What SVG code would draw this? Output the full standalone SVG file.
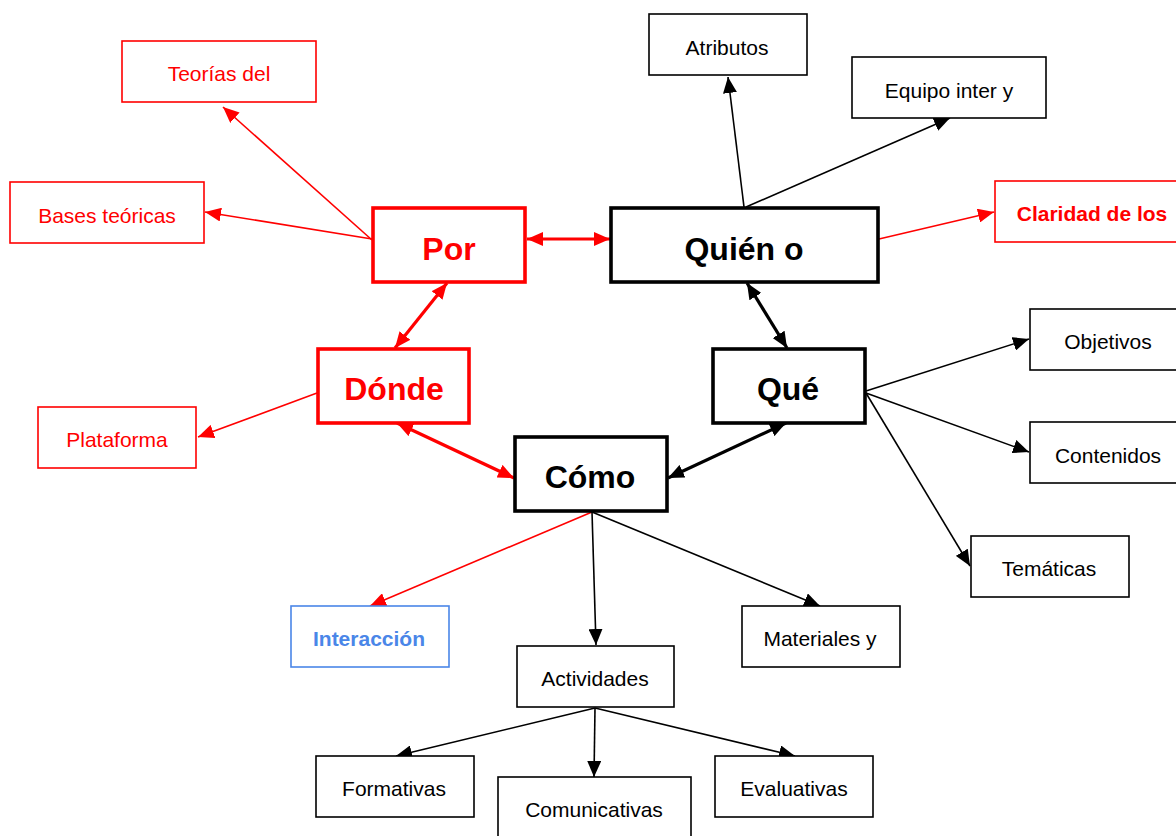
<svg xmlns="http://www.w3.org/2000/svg" width="1176" height="836" viewBox="0 0 1176 836">
  <style>
    text { font-family: "Liberation Sans", Arial, sans-serif; text-anchor: middle; dominant-baseline: central; }
    .box { fill: #fff; stroke: #000; stroke-width: 1.6; }
    .box-red { fill: #fff; stroke: #ff0000; stroke-width: 1.6; }
    .box-blue { fill: #fff; stroke: #4a86e8; stroke-width: 1.6; }
    .main { fill: #fff; stroke: #000; stroke-width: 3.6; }
    .main-red { fill: #fff; stroke: #ff0000; stroke-width: 3.6; }
    .t { font-size: 21px; fill: #000; }
    .t-red { font-size: 21px; fill: #ff0000; }
    .tb-red { font-size: 21px; font-weight: bold; fill: #ff0000; }
    .tb-blue { font-size: 21px; font-weight: bold; fill: #4a86e8; }
    .big { font-size: 32px; font-weight: bold; fill: #000; }
    .big-red { font-size: 32px; font-weight: bold; fill: #ff0000; }
    .c { fill: none; stroke: #000; stroke-width: 1.6; marker-end: url(#ah); }
    .c-red { fill: none; stroke: #ff0000; stroke-width: 1.6; marker-end: url(#ah-red); }
    .d { fill: none; stroke: #000; stroke-width: 3.2; marker-start: url(#ah); marker-end: url(#ah); }
    .d-red { fill: none; stroke: #ff0000; stroke-width: 3.2; marker-start: url(#ah-red); marker-end: url(#ah-red); }
  </style>
  <defs>
    <marker id="ah" markerUnits="userSpaceOnUse" markerWidth="18" markerHeight="14" refX="16" refY="7" orient="auto-start-reverse">
      <path d="M0,0 L16,7 L0,14 Z" fill="#000"/>
    </marker>
    <marker id="ah-red" markerUnits="userSpaceOnUse" markerWidth="18" markerHeight="14" refX="16" refY="7" orient="auto-start-reverse">
      <path d="M0,0 L16,7 L0,14 Z" fill="#ff0000"/>
    </marker>
  </defs>

  <rect width="1176" height="836" fill="#fff"/>

  <g id="connectors">
    <line class="c-red" x1="372" y1="240" x2="223" y2="107"/>
    <line class="c-red" x1="372" y1="239" x2="205" y2="212"/>
    <line class="d-red" x1="527" y1="239" x2="610" y2="239"/>
    <line class="d-red" x1="447" y1="283" x2="395" y2="348"/>
    <line class="c-red" x1="317" y1="393" x2="198" y2="437"/>
    <line class="d-red" x1="397" y1="423" x2="514" y2="478"/>
    <line class="c" x1="744" y1="207" x2="728" y2="77"/>
    <line class="c" x1="746" y1="207" x2="950" y2="118"/>
    <line class="c-red" x1="879" y1="239" x2="994" y2="212"/>
    <line class="d" x1="747" y1="283" x2="787" y2="348"/>
    <line class="d" x1="786" y1="423" x2="668" y2="478"/>
    <line class="c" x1="866" y1="391" x2="1029" y2="339"/>
    <line class="c" x1="866" y1="393" x2="1029" y2="452"/>
    <line class="c" x1="866" y1="393" x2="970" y2="566"/>
    <line class="c-red" x1="592" y1="512" x2="370" y2="606"/>
    <line class="c" x1="592" y1="512" x2="596" y2="645"/>
    <line class="c" x1="592" y1="512" x2="820" y2="606"/>
    <line class="c" x1="595" y1="708" x2="396" y2="756"/>
    <line class="c" x1="595" y1="708" x2="594" y2="777"/>
    <line class="c" x1="595" y1="708" x2="795" y2="756"/>
  </g>

  <g id="teorias"><rect class="box-red" x="122" y="41" width="194" height="61"/><text class="t-red" x="219" y="73">Teorías del</text></g>
  <g id="bases"><rect class="box-red" x="10" y="182" width="194" height="61"/><text class="t-red" x="107" y="215">Bases teóricas</text></g>
  <g id="por"><rect class="main-red" x="373" y="208" width="152" height="74"/><text class="big-red" x="449" y="249">Por</text></g>
  <g id="quien"><rect class="main" x="611" y="208" width="267" height="74"/><text class="big" x="744" y="249">Quién o</text></g>
  <g id="atributos"><rect class="box" x="649" y="14" width="158" height="61"/><text class="t" x="727" y="47">Atributos</text></g>
  <g id="equipo"><rect class="box" x="852" y="57" width="194" height="61"/><text class="t" x="949" y="90">Equipo inter y</text></g>
  <g id="claridad"><rect class="box-red" x="995" y="181" width="190" height="61"/><text class="tb-red" x="1092" y="213">Claridad de los</text></g>
  <g id="donde"><rect class="main-red" x="318" y="349" width="151" height="74"/><text class="big-red" x="394" y="389">Dónde</text></g>
  <g id="que"><rect class="main" x="713" y="349" width="152" height="74"/><text class="big" x="788" y="389">Qué</text></g>
  <g id="como"><rect class="main" x="515" y="437" width="152" height="74"/><text class="big" x="590" y="477">Cómo</text></g>
  <g id="plataforma"><rect class="box-red" x="38" y="407" width="158" height="61"/><text class="t-red" x="117" y="439">Plataforma</text></g>
  <g id="objetivos"><rect class="box" x="1030" y="309" width="160" height="61"/><text class="t" x="1108" y="341">Objetivos</text></g>
  <g id="contenidos"><rect class="box" x="1030" y="422" width="160" height="61"/><text class="t" x="1108" y="455">Contenidos</text></g>
  <g id="tematicas"><rect class="box" x="971" y="536" width="158" height="61"/><text class="t" x="1049" y="568">Temáticas</text></g>
  <g id="interaccion"><rect class="box-blue" x="291" y="606" width="158" height="61"/><text class="tb-blue" x="369" y="638">Interacción</text></g>
  <g id="materiales"><rect class="box" x="742" y="606" width="158" height="61"/><text class="t" x="820" y="638">Materiales y</text></g>
  <g id="actividades"><rect class="box" x="517" y="646" width="157" height="61"/><text class="t" x="595" y="678">Actividades</text></g>
  <g id="formativas"><rect class="box" x="316" y="756" width="158" height="61"/><text class="t" x="394" y="788">Formativas</text></g>
  <g id="comunicativas"><rect class="box" x="498" y="777" width="193" height="70"/><text class="t" x="594" y="809">Comunicativas</text></g>
  <g id="evaluativas"><rect class="box" x="715" y="756" width="158" height="61"/><text class="t" x="794" y="788">Evaluativas</text></g>
</svg>
